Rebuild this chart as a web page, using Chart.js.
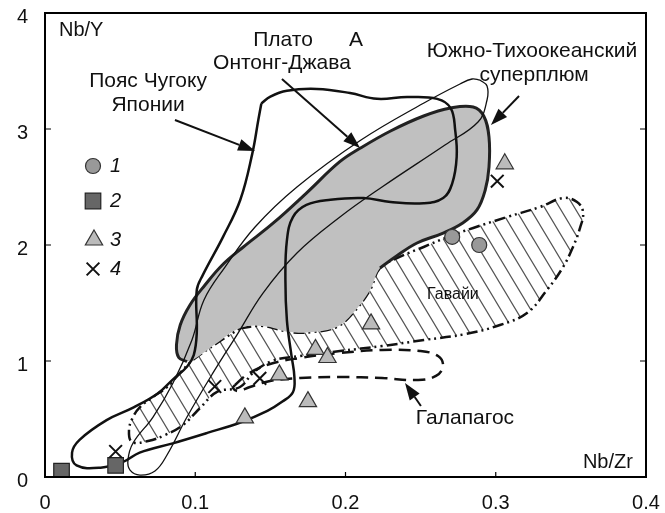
<!DOCTYPE html>
<html>
<head>
<meta charset="utf-8">
<script src="https://cdn.jsdelivr.net/npm/chart.js@4.4.1/dist/chart.umd.min.js"></script>
<style>
  html, body { margin: 0; padding: 0; background: #fff; }
  #wrap { width: 665px; height: 513px; }
</style>
</head>
<body>
<div id="wrap"><canvas id="chart" width="665" height="513"></canvas></div>
<script>
// Оси
const xTickValues = [0, 0.1, 0.2, 0.3, 0.4];
const yTickValues = [0, 1, 2, 3, 4];

// Точки (Nb/Zr, Nb/Y)
const group1NbZr = [0.271, 0.289];
const group1NbY = [2.07, 2.00];
const group2NbZr = [0.011, 0.047];
const group2NbY = [0.05, 0.10];
const group3NbZr = [0.306, 0.217, 0.180, 0.188, 0.156, 0.175, 0.133];
const group3NbY = [2.70, 1.32, 1.10, 1.03, 0.88, 0.65, 0.51];
const group4NbZr = [0.301, 0.047, 0.113, 0.143];
const group4NbY = [2.55, 0.22, 0.78, 0.85];

// Поля (контуры)
const chugokuField = [
  [0.144, 3.22], [0.150, 3.28], [0.161, 3.33], [0.181, 3.345], [0.203, 3.31], [0.221, 3.26],
  [0.241, 3.275], [0.261, 3.26], [0.270, 3.18], [0.273, 2.99], [0.274, 2.76], [0.271, 2.53],
  [0.265, 2.405], [0.252, 2.36], [0.230, 2.37], [0.212, 2.405], [0.190, 2.39], [0.174, 2.345],
  [0.165, 2.24], [0.161, 2.04], [0.160, 1.70], [0.161, 1.35], [0.164, 1.05], [0.166, 0.86],
  [0.165, 0.73], [0.158, 0.65], [0.148, 0.57], [0.130, 0.47], [0.108, 0.38], [0.085, 0.29],
  [0.063, 0.21], [0.052, 0.13], [0.037, 0.08], [0.021, 0.10], [0.018, 0.21], [0.023, 0.32],
  [0.041, 0.49], [0.059, 0.60], [0.075, 0.72], [0.085, 0.84], [0.0945, 0.95], [0.099, 1.05],
  [0.101, 1.24], [0.101, 1.61], [0.105, 1.74], [0.1185, 2.07], [0.130, 2.39], [0.138, 2.79],
  [0.142, 3.08], [0.144, 3.22]
];
const plumeEdge = [
  [0.0945, 0.995], [0.089, 1.03], [0.0875, 1.14], [0.090, 1.31], [0.0965, 1.483], [0.1065, 1.655],
  [0.118, 1.828], [0.132, 1.983], [0.152, 2.19], [0.174, 2.448], [0.196, 2.716], [0.210, 2.836],
  [0.230, 2.983], [0.252, 3.112], [0.270, 3.181], [0.285, 3.19], [0.292, 3.112], [0.2955, 2.931],
  [0.2955, 2.672], [0.293, 2.474], [0.2875, 2.302], [0.278, 2.19], [0.265, 2.103], [0.2476, 2.017],
  [0.234, 1.905], [0.223, 1.802]
];
const plumeBase = [
  [0.2163, 1.612], [0.205, 1.414], [0.194, 1.293], [0.178, 1.25], [0.163, 1.25], [0.145, 1.302],
  [0.130, 1.284], [0.1145, 1.155], [0.0985, 1.009], [0.0945, 0.995]
];
const hawaiiField = [
  [0.130, 1.284], [0.145, 1.302], [0.163, 1.25], [0.178, 1.25], [0.194, 1.293], [0.205, 1.414],
  [0.2163, 1.612], [0.223, 1.802], [0.236, 1.897], [0.252, 1.983], [0.268, 2.069], [0.285, 2.147],
  [0.3075, 2.241], [0.3295, 2.328], [0.3448, 2.405], [0.3541, 2.371], [0.3581, 2.284], [0.3561, 2.147],
  [0.3514, 1.983], [0.3448, 1.81], [0.3341, 1.612], [0.3208, 1.414], [0.3028, 1.31], [0.2802, 1.233],
  [0.2522, 1.181], [0.2243, 1.129], [0.1963, 1.086], [0.1697, 1.043], [0.1511, 1.00], [0.1384, 0.897],
  [0.1298, 0.776], [0.1145, 0.733], [0.1032, 0.595], [0.0918, 0.448], [0.0799, 0.362], [0.0686, 0.31],
  [0.0579, 0.302], [0.0559, 0.405], [0.0586, 0.517], [0.0632, 0.603], [0.0719, 0.69], [0.0812, 0.776],
  [0.0899, 0.897], [0.0985, 1.009], [0.1145, 1.155], [0.130, 1.284]
];
const ontongField = [
  [0.2895, 3.422], [0.2942, 3.371], [0.2942, 3.25], [0.2882, 3.06], [0.2662, 2.862], [0.2243, 2.50],
  [0.1963, 2.241], [0.1677, 1.931], [0.1451, 1.586], [0.1285, 1.241], [0.1118, 0.897], [0.0945, 0.517],
  [0.0812, 0.19], [0.0732, 0.052], [0.0632, 0.017], [0.0566, 0.06], [0.0552, 0.147], [0.0586, 0.293],
  [0.0719, 0.517], [0.0852, 0.81], [0.0978, 1.181], [0.1058, 1.526], [0.1198, 1.81], [0.1398, 2.155],
  [0.1677, 2.50], [0.2103, 2.905], [0.2522, 3.224], [0.2762, 3.388], [0.2842, 3.431], [0.2895, 3.422]
];
const galapagosField = [
  [0.1265, 0.793], [0.1351, 0.888], [0.1498, 0.974], [0.1697, 1.026], [0.1963, 1.069], [0.2243, 1.095],
  [0.2496, 1.086], [0.2616, 1.043], [0.2649, 0.957], [0.2602, 0.871], [0.2483, 0.836], [0.2243, 0.853],
  [0.1963, 0.862], [0.1697, 0.853], [0.1498, 0.828], [0.1364, 0.776], [0.1285, 0.741], [0.1251, 0.767],
  [0.1265, 0.793]
];

// Подписи и стрелки
const notes = [
  { text: 'Nb/Y', x: 0.0093, y: 3.853, align: 'left', size: 20 },
  { text: 'Nb/Zr', x: 0.3913, y: 0.129, align: 'right', size: 20 },
  { text: 'Пояс Чугоку', x: 0.0686, y: 3.414, size: 21 },
  { text: 'Японии', x: 0.0686, y: 3.207, size: 21 },
  { text: 'Плато', x: 0.1584, y: 3.767, size: 21 },
  { text: 'А', x: 0.207, y: 3.767, size: 21 },
  { text: 'Онтонг-Джава', x: 0.1577, y: 3.569, size: 21 },
  { text: 'Южно-Тихоокеанский', x: 0.3241, y: 3.672, size: 21 },
  { text: 'суперплюм', x: 0.3255, y: 3.466, size: 21 },
  { text: 'Гавайи', x: 0.2715, y: 1.569, size: 16 },
  { text: 'Галапагос', x: 0.2795, y: 0.509, size: 21 }
];
const arrows = [
  { from: [0.0865, 3.078], to: [0.1398, 2.81] },
  { from: [0.1577, 3.431], to: [0.2097, 2.836] },
  { from: [0.3155, 3.284], to: [0.2968, 3.034] },
  { from: [0.2502, 0.612], to: [0.2396, 0.81] }
];
const legendLabels = ['1', '2', '3', '4'];

const FONT = '"Liberation Sans", Arial, sans-serif';

function pts(xs, ys) {
  return xs.map((x, i) => ({ x: x, y: ys[i] }));
}
function path(list) {
  return list.map(p => ({ x: p[0], y: p[1] }));
}
function contour(list, extra) {
  return Object.assign({
    data: path(list),
    showLine: true,
    pointRadius: 0,
    pointHoverRadius: 0,
    borderColor: '#111',
    borderWidth: 2.5,
    tension: 0.4,
    fill: false
  }, extra);
}

function hatchPattern() {
  const w = 15, h = 25;
  const c = document.createElement('canvas');
  c.width = w;
  c.height = h;
  const g = c.getContext('2d');
  g.strokeStyle = '#555';
  g.lineWidth = 1.2;
  g.beginPath();
  for (let k = -1; k <= 1; k++) {
    g.moveTo(k * w - w, -h);
    g.lineTo(k * w + 2 * w, 2 * h);
  }
  g.stroke();
  return g.createPattern(c, 'repeat');
}

const markerStyles = [
  { pointStyle: 'circle', radius: 7.5, fill: '#999', stroke: '#333', width: 1.2 },
  { pointStyle: 'rect', radius: 11, fill: '#666', stroke: '#222', width: 1.2 },
  { pointStyle: 'triangle', radius: 10, fill: '#bbb', stroke: '#333', width: 1.2 },
  { pointStyle: 'crossRot', radius: 9, fill: '#111', stroke: '#111', width: 2 }
];
const legendPos = [[93, 166], [93, 201], [94, 240], [93, 269]];

function drawMarker(ctx, st, x, y) {
  ctx.save();
  ctx.fillStyle = st.fill;
  ctx.strokeStyle = st.stroke;
  ctx.lineWidth = st.width;
  ctx.beginPath();
  const r = st.radius;
  if (st.pointStyle === 'circle') {
    ctx.arc(x, y, r, 0, Math.PI * 2);
    ctx.fill();
  } else if (st.pointStyle === 'rect') {
    const s = r * Math.SQRT1_2;
    ctx.rect(x - s, y - s, 2 * s, 2 * s);
    ctx.fill();
  } else if (st.pointStyle === 'triangle') {
    ctx.moveTo(x, y - r);
    ctx.lineTo(x + r * 0.866, y + r * 0.5);
    ctx.lineTo(x - r * 0.866, y + r * 0.5);
    ctx.closePath();
    ctx.fill();
  } else {
    const s = r * Math.SQRT1_2;
    ctx.moveTo(x - s, y - s); ctx.lineTo(x + s, y + s);
    ctx.moveTo(x + s, y - s); ctx.lineTo(x - s, y + s);
  }
  ctx.stroke();
  ctx.restore();
}

const decor = {
  id: 'decor',
  afterDatasetsDraw(chart) {
    const { ctx, scales } = chart;
    const sx = scales.x, sy = scales.y;
    ctx.save();
    // стрелки
    ctx.strokeStyle = '#111';
    ctx.fillStyle = '#111';
    ctx.lineWidth = 2;
    arrows.forEach(a => {
      const x1 = sx.getPixelForValue(a.from[0]), y1 = sy.getPixelForValue(a.from[1]);
      const x2 = sx.getPixelForValue(a.to[0]), y2 = sy.getPixelForValue(a.to[1]);
      const ang = Math.atan2(y2 - y1, x2 - x1);
      const len = 17, half = 6;
      const bx = x2 - len * Math.cos(ang), by = y2 - len * Math.sin(ang);
      ctx.beginPath();
      ctx.moveTo(x1, y1);
      ctx.lineTo(bx, by);
      ctx.stroke();
      ctx.beginPath();
      ctx.moveTo(x2, y2);
      ctx.lineTo(bx + half * Math.sin(ang), by - half * Math.cos(ang));
      ctx.lineTo(bx - half * Math.sin(ang), by + half * Math.cos(ang));
      ctx.closePath();
      ctx.fill();
    });
    // подписи
    ctx.fillStyle = '#111';
    ctx.textBaseline = 'middle';
    notes.forEach(n => {
      ctx.font = n.size + 'px ' + FONT;
      ctx.textAlign = n.align || 'center';
      ctx.fillText(n.text, sx.getPixelForValue(n.x), sy.getPixelForValue(n.y));
    });
    // легенда
    ctx.font = 'italic 20px ' + FONT;
    ctx.textAlign = 'left';
    legendLabels.forEach((t, i) => {
      drawMarker(ctx, markerStyles[i], legendPos[i][0], legendPos[i][1]);
      ctx.fillStyle = '#111';
      ctx.fillText(t, 110, legendPos[i][1]);
    });
    ctx.restore();
  },
  afterDraw(chart) {
    const { ctx, chartArea: a, scales } = chart;
    ctx.save();
    ctx.strokeStyle = '#000';
    ctx.lineWidth = 2;
    ctx.strokeRect(a.left, a.top, a.right - a.left, a.bottom - a.top);
    ctx.lineWidth = 1.2;
    ctx.beginPath();
    xTickValues.slice(1, -1).forEach(v => {
      const px = scales.x.getPixelForValue(v);
      ctx.moveTo(px, a.bottom);
      ctx.lineTo(px, a.bottom - 5);
    });
    yTickValues.slice(1, -1).forEach(v => {
      const py = scales.y.getPixelForValue(v);
      ctx.moveTo(a.left, py);
      ctx.lineTo(a.left + 6, py);
      ctx.moveTo(a.right, py);
      ctx.lineTo(a.right - 6, py);
    });
    ctx.stroke();
    ctx.restore();
  }
};

const hatch = hatchPattern();

function markerSet(xs, ys, st, order) {
  return {
    data: pts(xs, ys),
    pointStyle: st.pointStyle,
    pointRadius: st.radius,
    pointHoverRadius: st.radius,
    backgroundColor: st.fill,
    borderColor: st.stroke,
    pointBorderWidth: st.width,
    borderWidth: st.width,
    showLine: false,
    order: order
  };
}

new Chart(document.getElementById('chart'), {
  type: 'scatter',
  data: {
    datasets: [
      contour(hawaiiField, {
        fill: 'shape', backgroundColor: hatch,
        borderDash: [11, 4, 2, 4, 2, 4], borderWidth: 2.5, order: 20
      }),
      contour(plumeEdge.concat(plumeBase), {
        fill: 'shape', backgroundColor: '#c0c0c0', borderWidth: 0, borderColor: 'rgba(0,0,0,0)', order: 19
      }),
      contour(plumeEdge, { borderColor: '#222', borderWidth: 3, order: 18 }),
      contour(ontongField, { borderWidth: 1.3, order: 17 }),
      contour(chugokuField, { borderWidth: 2.5, order: 16 }),
      contour(galapagosField, { borderDash: [12, 7], borderWidth: 2.5, order: 15 }),
      markerSet(group1NbZr, group1NbY, markerStyles[0], 4),
      markerSet(group2NbZr, group2NbY, markerStyles[1], 3),
      markerSet(group3NbZr, group3NbY, markerStyles[2], 2),
      markerSet(group4NbZr, group4NbY, markerStyles[3], 1)
    ]
  },
  options: {
    responsive: false,
    animation: false,
    devicePixelRatio: 1,
    layout: { padding: { left: 17, right: 19, top: 13, bottom: 0 } },
    plugins: {
      legend: { display: false },
      tooltip: { enabled: false }
    },
    scales: {
      x: {
        type: 'linear',
        min: 0,
        max: 0.4,
        grid: {
          display: true,
          drawOnChartArea: false,
          drawTicks: true,
          tickLength: 14,
          color: 'rgba(0,0,0,0)'
        },
        border: { display: false },
        afterBuildTicks: s => { s.ticks = xTickValues.map(v => ({ value: v })); },
        afterFit: s => { s.height = 36; },
        ticks: {
          color: '#111',
          padding: 0,
          maxRotation: 0,
          font: { size: 20, family: FONT },
          callback: v => String(Math.round(v * 10) / 10)
        }
      },
      y: {
        type: 'linear',
        min: 0,
        max: 4,
        grid: { display: false },
        border: { display: false },
        afterBuildTicks: s => { s.ticks = yTickValues.map(v => ({ value: v })); },
        afterFit: s => { s.width = 28; },
        ticks: {
          color: '#111',
          padding: 0,
          crossAlign: 'far',
          labelOffset: 4,
          font: { size: 20, family: FONT },
          callback: v => String(v)
        }
      }
    }
  },
  plugins: [decor]
});
</script>
</body>
</html>
